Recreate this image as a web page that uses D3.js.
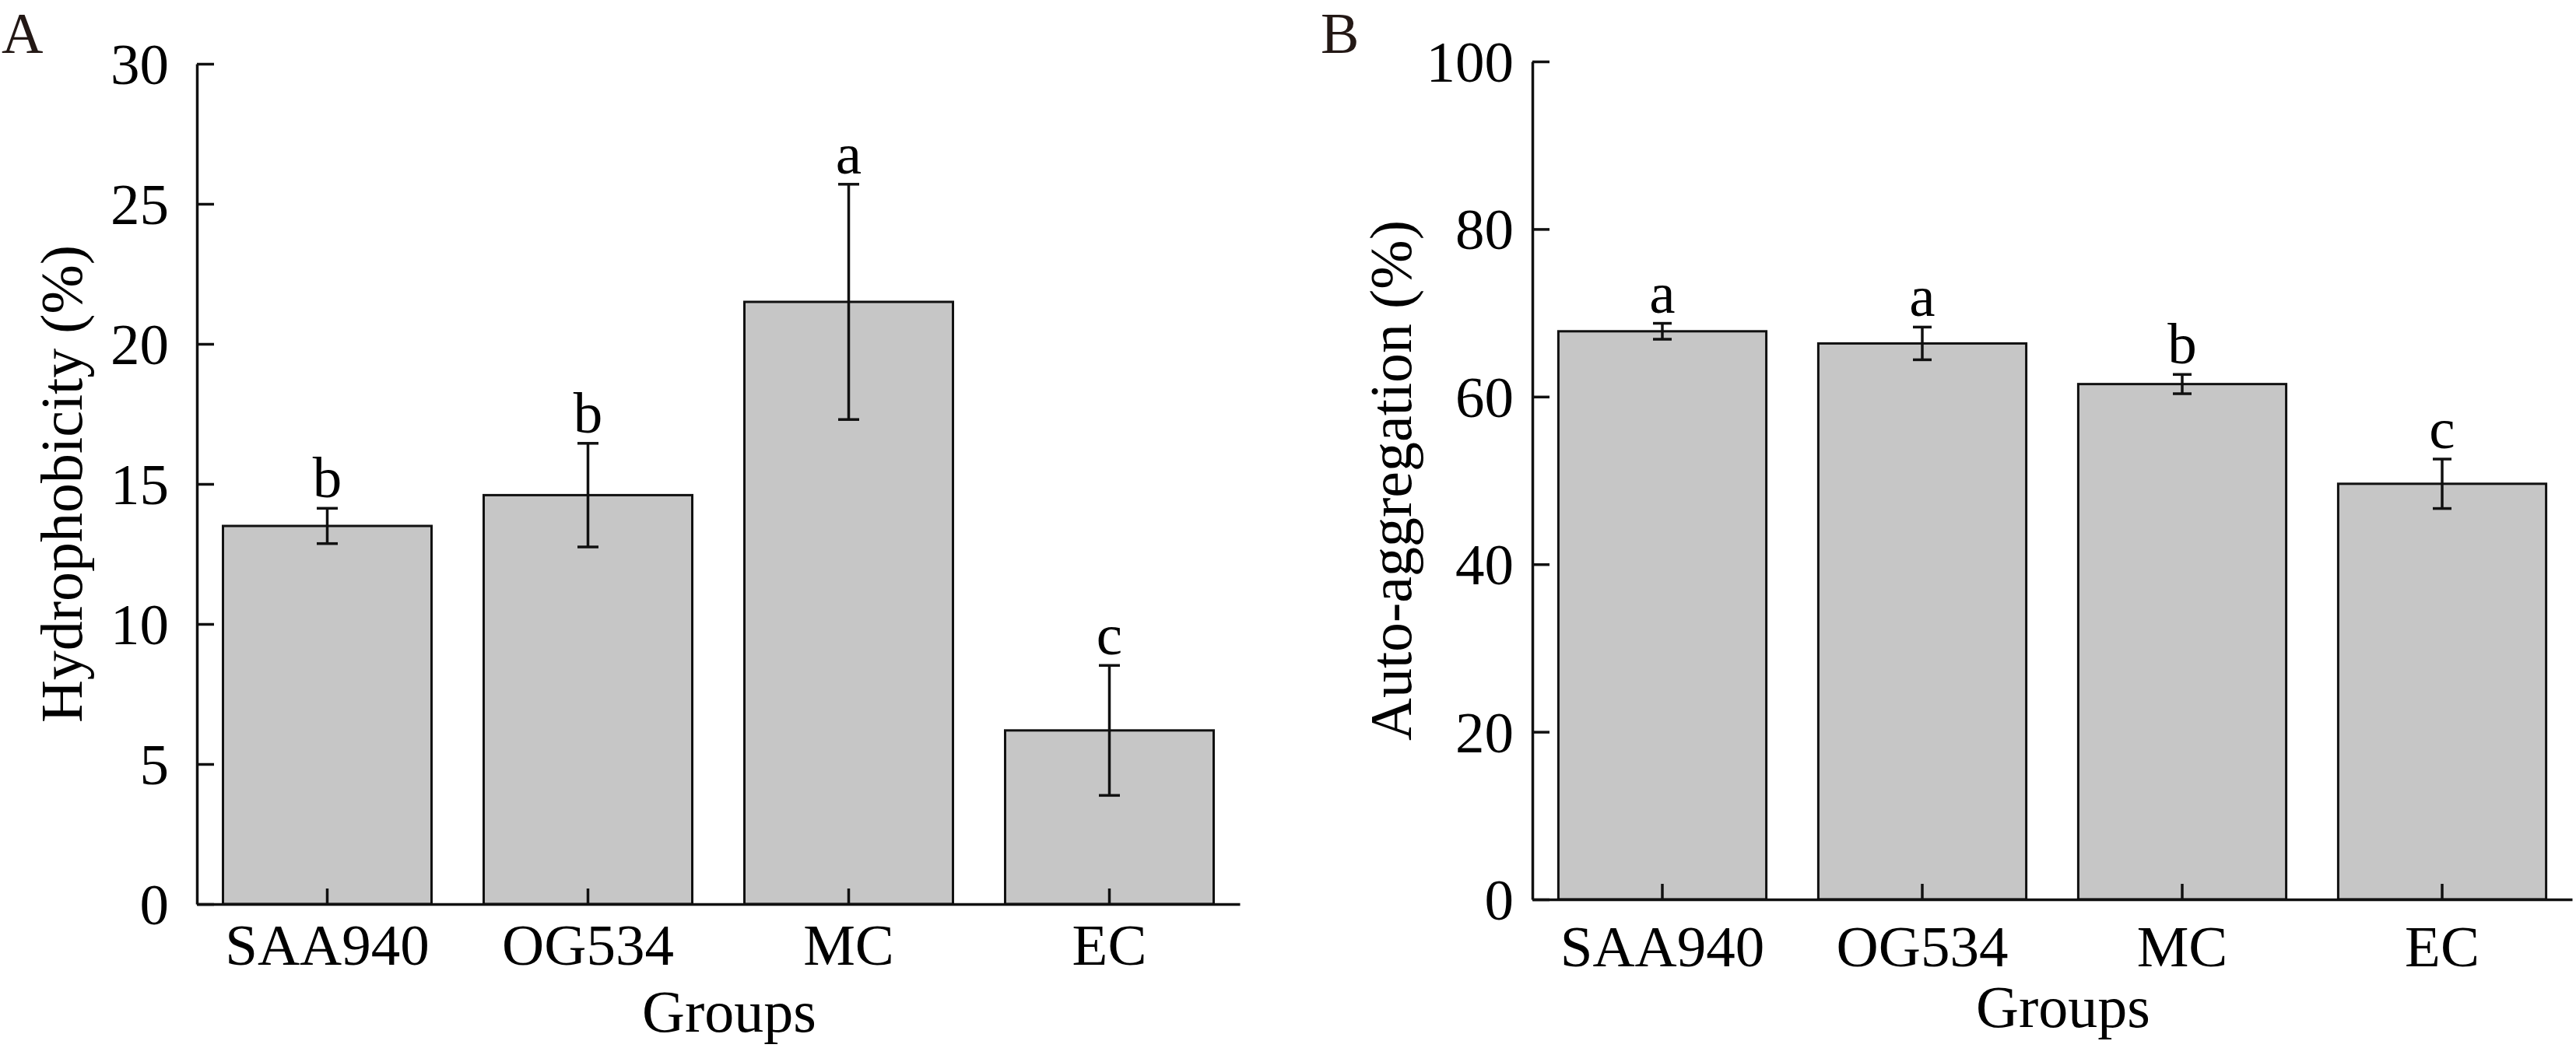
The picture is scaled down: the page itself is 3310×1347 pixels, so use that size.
<!DOCTYPE html>
<html>
<head>
<meta charset="utf-8">
<script src="https://cdn.jsdelivr.net/npm/d3@7"></script>
<style>
  body { margin: 0; background: #fff; }
  svg text { font-family: "Liberation Serif", "Times New Roman", serif; fill: #000; }
</style>
</head>
<body>
<div id="chart"></div>
<script>
// Data
var groups = ["SAA940", "OG534", "MC", "EC"];

var hydroMean = [13.5, 14.6, 21.5, 6.2];
var hydroErr = [0.63, 1.85, 4.2, 2.32];
var hydroLetters = ["b", "b", "a", "c"];
var hydroTicks = [0, 5, 10, 15, 20, 25, 30];

var autoMean = [67.8, 66.35, 61.5, 49.6];
var autoErr = [0.95, 1.95, 1.15, 2.95];
var autoLetters = ["a", "a", "b", "c"];
var autoTicks = [0, 20, 40, 60, 80, 100];

var svgWidth = 3310;
var svgHeight = 1347;

var svg = d3.select("#chart")
    .append("svg")
        .attr("width", svgWidth)
        .attr("height", svgHeight);

// Draw one bar panel
function drawPanel(opts) {
    var data = groups.map(function(g, i) {
        return {group: g, mean: opts.mean[i], err: opts.err[i], letter: opts.letters[i]};
    });

    var x = d3.scaleBand()
        .domain(groups)
        .range([opts.left, opts.right])
        .paddingInner(0.2)
        .paddingOuter(0.1);

    var y = d3.scaleLinear()
        .domain([0, opts.max])
        .range([opts.bottom, opts.top]);

    var g = svg.append("g");

    // Bars
    g.selectAll(".bar")
        .data(data)
        .enter().append("rect")
            .attr("x", d => x(d.group))
            .attr("y", d => y(d.mean))
            .attr("width", x.bandwidth())
            .attr("height", d => y(0) - y(d.mean))
            .attr("fill", "#c6c6c6")
            .attr("stroke", "#111")
            .attr("stroke-width", 3);

    // Error bars
    var cap = opts.cap;
    var eb = g.selectAll(".err")
        .data(data)
        .enter().append("g")
            .attr("stroke", "#111")
            .attr("stroke-width", 3.5);
    eb.append("line")
        .attr("x1", d => x(d.group) + x.bandwidth() / 2)
        .attr("x2", d => x(d.group) + x.bandwidth() / 2)
        .attr("y1", d => y(d.mean + d.err))
        .attr("y2", d => y(d.mean - d.err));
    eb.append("line")
        .attr("x1", d => x(d.group) + x.bandwidth() / 2 - cap / 2)
        .attr("x2", d => x(d.group) + x.bandwidth() / 2 + cap / 2)
        .attr("y1", d => y(d.mean + d.err))
        .attr("y2", d => y(d.mean + d.err));
    eb.append("line")
        .attr("x1", d => x(d.group) + x.bandwidth() / 2 - cap / 2)
        .attr("x2", d => x(d.group) + x.bandwidth() / 2 + cap / 2)
        .attr("y1", d => y(d.mean - d.err))
        .attr("y2", d => y(d.mean - d.err));

    // Significance letters
    g.selectAll(".letter")
        .data(data)
        .enter().append("text")
            .attr("x", d => x(d.group) + x.bandwidth() / 2)
            .attr("y", d => y(d.mean + d.err) - 14)
            .attr("text-anchor", "middle")
            .attr("font-size", 75)
            .text(d => d.letter);

    // Axes
    var xAxis = g.append("g")
        .attr("transform", "translate(0," + opts.bottom + ")")
        .call(d3.axisBottom(x).tickSize(-20).tickSizeOuter(0).tickPadding(opts.xPad));
    var yAxis = g.append("g")
        .attr("transform", "translate(" + opts.left + ",0)")
        .call(d3.axisLeft(y).tickValues(opts.ticks).tickSize(-22).tickSizeOuter(0).tickPadding(opts.yPad));

    [xAxis, yAxis].forEach(function(a) {
        a.select(".domain").attr("stroke", "#111").attr("stroke-width", 3.5);
        a.selectAll(".tick line").attr("stroke", "#111").attr("stroke-width", 3.5);
        a.selectAll(".tick text")
            .attr("font-size", 75)
            .attr("font-family", "Liberation Serif, Times New Roman, serif")
            .attr("fill", "#000");
    });
    yAxis.selectAll(".tick text").attr("dy", "0.34em");

    // Axis titles
    g.append("text")
        .attr("x", (opts.left + opts.right) / 2 + 14)
        .attr("y", opts.bottom + 164)
        .attr("text-anchor", "middle")
        .attr("font-size", 76)
        .text("Groups");

    g.append("text")
        .attr("transform", "translate(" + (opts.left - opts.titleOffset) + "," + (opts.top + opts.bottom) / 2 + ") rotate(-90)")
        .attr("text-anchor", "middle")
        .attr("font-size", 76)
        .text(opts.yTitle);

    // Panel letter
    g.append("text")
        .attr("x", opts.tagX)
        .attr("y", 68)
        .attr("font-size", 74)
        .style("fill", "#231815")
        .text(opts.tag);
}

drawPanel({
    mean: hydroMean, err: hydroErr, letters: hydroLetters, ticks: hydroTicks,
    max: 30, left: 253, right: 1593, top: 82, bottom: 1162,
    cap: 27, xPad: 25, yPad: 36, titleOffset: 148,
    yTitle: "Hydrophobicity (%)", tag: "A", tagX: 2
});

drawPanel({
    mean: autoMean, err: autoErr, letters: autoLetters, ticks: autoTicks,
    max: 100, left: 1969, right: 3305, top: 79, bottom: 1156,
    cap: 24, xPad: 33, yPad: 24, titleOffset: 156,
    yTitle: "Auto-aggregation (%)", tag: "B", tagX: 1697
});
</script>
</body>
</html>
